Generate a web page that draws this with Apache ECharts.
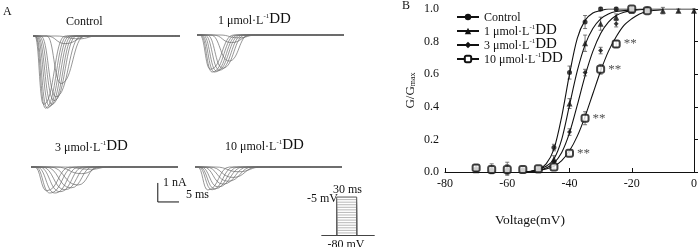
<!DOCTYPE html>
<html>
<head>
<meta charset="utf-8">
<script src="https://cdn.jsdelivr.net/npm/echarts/dist/echarts.min.js"></script>
<style>
html,body{margin:0;padding:0;background:#fff}
#main{width:700px;height:247px}
</style>
</head>
<body>
<div id="main"></div>
<script>
// ---- panel B: G/Gmax vs voltage ----
const volts = [-70,-65,-60,-55,-50,-45,-40,-35,-30,-25,-20,-15,-10,-5,0];
const ctrlG  = [0.02,0.01,0.01,0.01,0.02,0.15,0.61,0.92,1.0,1.0,1.0,1.0];
const dd1G   = [0.01,0.02,0.02,0.01,0.01,0.08,0.42,0.79,0.91,0.95,0.99,0.99,0.99,0.99,0.99];
const dd3G   = [0.01,0.01,0.01,0.01,0.01,0.06,0.245,0.61,0.745,0.91,0.99,0.99];
const dd10G  = [0.025,0.015,0.015,0.015,0.02,0.03,0.115,0.33,0.63,0.785,1.0,0.99];
const ctrlErr = [0.02,0.02,0.02,0.01,0.01,0.02,0.04,0.04,0.01,0.01,0.01,0.01];
const dd1Err  = [0.01,0.03,0.04,0.01,0.01,0.02,0.03,0.05,0.04,0.02,0.01,0.01,0.02,0.01,0.01];
const dd3Err  = [0.01,0.01,0.01,0.01,0.01,0.01,0.02,0.02,0.02,0.02,0.01,0.01];
const dd10Err = [0.02,0.02,0.03,0.01,0.01,0.01,0.01,0.04,0.03,0.02,0.01,0.01];
const sig10 = ['','','','','','','**','**','**','**','',''];

// fitted curves
const fitV = [-55,-52.5,-50,-47.5,-45,-42.5,-40,-37.5,-35,-32.5,-30,-27.5,-25,-22.5,-20,-17.5,-15,-10,-5,0];
const ctrlFit = [0,0.003,0.015,0.05,0.14,0.34,0.6,0.82,0.93,0.975,0.99,1,1,1,1];
const dd1Fit  = [0,0.005,0.015,0.035,0.08,0.2,0.41,0.62,0.78,0.88,0.94,0.97,0.985,0.99,0.995,1,1,1,1,1];
const dd3Fit  = [0,0.003,0.01,0.025,0.055,0.12,0.24,0.41,0.59,0.74,0.85,0.92,0.96,0.98,0.99,0.995,1];
const dd10Fit = [0,0.003,0.008,0.018,0.035,0.07,0.13,0.22,0.34,0.48,0.62,0.74,0.83,0.9,0.94,0.97,0.985,0.995];

// ---- panel A: current traces (time ms, current nA) ----
const ctrlOnset = [0.4,0.5,0.6,0.8,1.0,1.3,1.7,3.0,3.0,5.0];
const ctrlPeakT = [2.3,2.7,3.1,3.6,4.1,4.6,5.0,6.1,7.0,10.0];
const ctrlPeakI = [-3.6,-3.8,-3.8,-3.7,-3.6,-3.4,-3.2,-2.5,-0.4,-0.15];
const ctrlEnd   = [7,7.5,8,8.5,9,9.5,10.5,11.3,12,14];

const dd1Onset = [0.6,0.8,1.0,1.3,1.7,2.2,3.0,3.5,5.0];
const dd1PeakT = [2.9,3.3,3.8,4.3,4.9,5.6,7.0,7.5,9.0];
const dd1PeakI = [-1.8,-1.95,-1.95,-1.9,-1.85,-1.75,-1.37,-0.4,-0.15];
const dd1End   = [8,8.5,9,9.5,10,10.5,11.3,12,13];

const dd3Onset = [0.8,1.0,1.3,1.8,2.4,3.2,4.2,5.5,7];
const dd3PeakT = [3.4,4.1,5.2,6.3,7.4,8.7,10.2,11,13];
const dd3PeakI = [-1.25,-1.37,-1.37,-1.3,-1.2,-1.1,-0.95,-0.35,-0.12];
const dd3End   = [8.5,9.5,10.5,11.5,12.5,13.5,14.6,15.5,17];

const dd10Onset = [0.6,0.8,1.0,1.3,1.8,2.4,3.2,4.5];
const dd10PeakT = [2.8,3.7,4.3,5.0,6.1,7.2,8.3,9.5];
const dd10PeakI = [-1.21,-1.2,-1.15,-1.05,-0.9,-0.75,-0.55,-0.25];
const dd10End   = [7.5,8.5,9.5,10.5,11.5,12.5,13.5,14.5];

const sweepLen = 32;
const scaleBar = [[27.6,-0.84],[27.6,-1.84],[32.6,-1.84]];

// voltage protocol
const stepLevels = [-75,-70,-65,-60,-55,-50,-45,-40,-35,-30,-25,-20,-15,-10,-5];
const holdV = -80;
const protoT = [-23, 0, 30, 57];

const serif = 'Liberation Serif';

function pair(xs, ys){
	return ys.map((y,i)=>[xs[i], y]);
}

function traceSeries(gi, onset, peakT, peakI, end){
	return onset.map((on,i)=>({
		type:'line', xAxisIndex:gi, yAxisIndex:gi, silent:true,
		symbol:'none', smooth:0.5, smoothMonotone:'x', clip:false,
		lineStyle:{color:'#6a6a6a', width:0.7},
		data:[[0,0],[on,0],[peakT[i],peakI[i]],[end[i],0],[sweepLen,0]]
	}));
}

function errSeries(ys, errs){
	return {
		type:'custom', xAxisIndex:0, yAxisIndex:0, silent:true, z:3,
		data: ys.map((y,i)=>[volts[i], y, errs[i]]),
		renderItem:function(params, api){
			let x = api.value(0), y = api.value(1), e = api.value(2);
			let top = api.coord([x, y+e]);
			let bot = api.coord([x, y-e]);
			let st = {stroke:'#555', lineWidth:0.8};
			return {type:'group', children:[
				{type:'line', shape:{x1:top[0],y1:top[1],x2:bot[0],y2:bot[1]}, style:st},
				{type:'line', shape:{x1:top[0]-2,y1:top[1],x2:top[0]+2,y2:top[1]}, style:st},
				{type:'line', shape:{x1:bot[0]-2,y1:bot[1],x2:bot[0]+2,y2:bot[1]}, style:st}
			]};
		}
	};
}

function fitSeries(name, ys, symbol, size, itemStyle){
	return {
		name:name, type:'line', xAxisIndex:0, yAxisIndex:0, silent:true,
		symbol:symbol, symbolSize:size, showSymbol:false, smooth:0.3,
		lineStyle:{color:'#111', width:1.1},
		itemStyle:itemStyle,
		data: pair(fitV, ys)
	};
}

function pointSeries(name, ys, symbol, size, itemStyle, labels){
	let s = {
		name:name, type:'scatter', xAxisIndex:0, yAxisIndex:0, silent:true, z:4,
		symbol:symbol, symbolSize:size, itemStyle:itemStyle,
		data: pair(volts, ys)
	};
	if(labels){
		s.label = {
			show:true, position:'right', distance:3,
			fontFamily:serif, fontSize:13, color:'#222',
			formatter:p=>labels[p.dataIndex]
		};
	}
	return s;
}

const hidden = {show:false};
function hideAxes(n, xr, yr){
	return {
		x:{type:'value', gridIndex:n, min:xr[0], max:xr[1], show:false},
		y:{type:'value', gridIndex:n, min:yr[0], max:yr[1], show:false}
	};
}

const legendText = {
	Control:'{n|Control}',
	DD1:'{n|1 μmol·L}{s|-1}{d|DD}',
	DD3:'{n|3 μmol·L}{s|-1}{d|DD}',
	DD10:'{n|10 μmol·L}{s|-1}{d|DD}'
};
const richLbl = {
	n:{fontFamily:serif, fontSize:12, color:'#111', verticalAlign:'bottom', lineHeight:14},
	s:{fontFamily:serif, fontSize:7, color:'#111', verticalAlign:'top', lineHeight:14},
	d:{fontFamily:serif, fontSize:15, color:'#111', verticalAlign:'bottom', lineHeight:14}
};

// plain text label
function label(x, y, txt, align, size){
	return {type:'text', x:x, y:y, silent:true,
		style:{text:txt, fill:'#111', font:(size||12)+'px '+serif,
			align:align||'left', verticalAlign:'middle'}};
}
// label with superscript / large "DD"
function richLabel(x, y, txt){
	return {type:'text', x:x, y:y, silent:true,
		style:{text:txt, rich:richLbl, fill:'#111', font:'12px '+serif,
			align:'left', verticalAlign:'middle'}};
}

const a1 = hideAxes(1, [0,sweepLen], [-4,0]);
const a2 = hideAxes(2, [0,sweepLen], [-4,0]);
const a3 = hideAxes(3, [0,sweepLen], [-4,0]);
const a4 = hideAxes(4, [0,sweepLen], [-4,0]);
const a5 = hideAxes(5, [-25,60], [-85,0]);

let series = [
	fitSeries('Control', ctrlFit, 'circle', 5, {color:'#111'}),
	fitSeries('DD1', dd1Fit, 'triangle', 6, {color:'#111'}),
	fitSeries('DD3', dd3Fit, 'diamond', 5, {color:'#111'}),
	fitSeries('DD10', dd10Fit, 'roundRect', 7, {color:'#fff', borderColor:'#111', borderWidth:2}),
	errSeries(ctrlG, ctrlErr), errSeries(dd1G, dd1Err), errSeries(dd3G, dd3Err), errSeries(dd10G, dd10Err),
	pointSeries('Control', ctrlG, 'circle', 5, {color:'#111'}),
	pointSeries('DD1', dd1G, 'triangle', 6, {color:'#111'}),
	pointSeries('DD3', dd3G, 'diamond', 5, {color:'#111'}),
	pointSeries('DD10', dd10G, 'roundRect', 7, {color:'#fff', borderColor:'#111', borderWidth:2}, sig10)
];
series = series.concat(
	traceSeries(1, ctrlOnset, ctrlPeakT, ctrlPeakI, ctrlEnd),
	traceSeries(2, dd1Onset, dd1PeakT, dd1PeakI, dd1End),
	traceSeries(3, dd3Onset, dd3PeakT, dd3PeakI, dd3End),
	traceSeries(4, dd10Onset, dd10PeakT, dd10PeakI, dd10End)
);
// scale bar
series.push({type:'line', xAxisIndex:3, yAxisIndex:3, silent:true, symbol:'none', clip:false,
	lineStyle:{color:'#111', width:1}, data:scaleBar});
// holding baseline (drawn first, below the steps)
series.push({type:'line', name:'holding', xAxisIndex:5, yAxisIndex:5, symbol:'none', clip:false, z:5,
	lineStyle:{color:'#444', width:1.2},
	data:[[protoT[0],holdV],[protoT[3],holdV]]});
// protocol steps
stepLevels.forEach((v,i)=>{
	let last = i === stepLevels.length-1;
	series.push({type:'line', xAxisIndex:5, yAxisIndex:5, silent:true, symbol:'none', clip:false,
		lineStyle:{color:last?'#555':'#9a9a9a', width:last?1:0.7},
		data:[[protoT[1],holdV],[protoT[1],v],[protoT[2],v],[protoT[2],holdV]]});
});

const chart = echarts.init(document.getElementById('main'), null, {renderer:'canvas'});
chart.setOption({
	animation:false,
	backgroundColor:'#fff',
	textStyle:{fontFamily:serif},
	grid:[
		{left:445, top:9, width:250, height:163},
		{left:33, top:36, width:147, height:76},
		{left:197, top:35, width:147, height:76},
		{left:31, top:167, width:147, height:76},
		{left:195, top:167, width:147, height:76},
		{left:320, top:194.5, width:56.7, height:43.56}
	],
	xAxis:[
		{type:'value', gridIndex:0, min:-80, max:0, interval:20,
			axisLine:{lineStyle:{color:'#111', width:1}},
			axisTick:{inside:true, length:4, lineStyle:{color:'#111'}},
			splitLine:hidden,
			axisLabel:{color:'#111', fontFamily:serif, fontSize:12, margin:6}},
		a1.x, a2.x, a3.x, a4.x, a5.x
	],
	yAxis:[
		{type:'value', gridIndex:0, min:0, max:1, interval:0.2,
			axisLine:{show:true, lineStyle:{color:'#111', width:1}},
			axisTick:{show:true, inside:true, length:4, lineStyle:{color:'#111'}},
			splitLine:hidden,
			axisLabel:{color:'#111', fontFamily:serif, fontSize:12, margin:6,
				formatter:v=>v.toFixed(1)},
			name:'{a|G/G}{b|max}', nameLocation:'middle', nameGap:28,
			nameTextStyle:{rich:{
				a:{fontFamily:serif, fontSize:13, color:'#111', verticalAlign:'bottom'},
				b:{fontFamily:serif, fontSize:8, color:'#111', verticalAlign:'bottom'}
			}}},
		a1.y, a2.y, a3.y, a4.y, a5.y
	],
	legend:{
		data:['Control','DD1','DD3','DD10'],
		orient:'vertical', left:451, top:5,
		itemWidth:22, itemHeight:8, itemGap:-1,
		formatter:n=>legendText[n],
		textStyle:{rich:richLbl, fontFamily:serif, fontSize:12, color:'#111', lineHeight:14}
	},
	graphic:[
		label(3, 12, 'A'),
		label(402, 6, 'B'),
		label(66, 22, 'Control'),
		richLabel(218, 20, legendText.DD1),
		richLabel(55, 147, legendText.DD3),
		richLabel(225, 146, legendText.DD10),
		label(163, 183, '1 nA'),
		label(186, 195, '5 ms'),
		label(307, 199, '-5 mV'),
		label(333, 190, '30 ms'),
		label(346, 244.5, '-80 mV', 'center'),
		label(530, 220, 'Voltage(mV)', 'center', 13.5)
	],
	series:series
});
</script>
</body>
</html>
